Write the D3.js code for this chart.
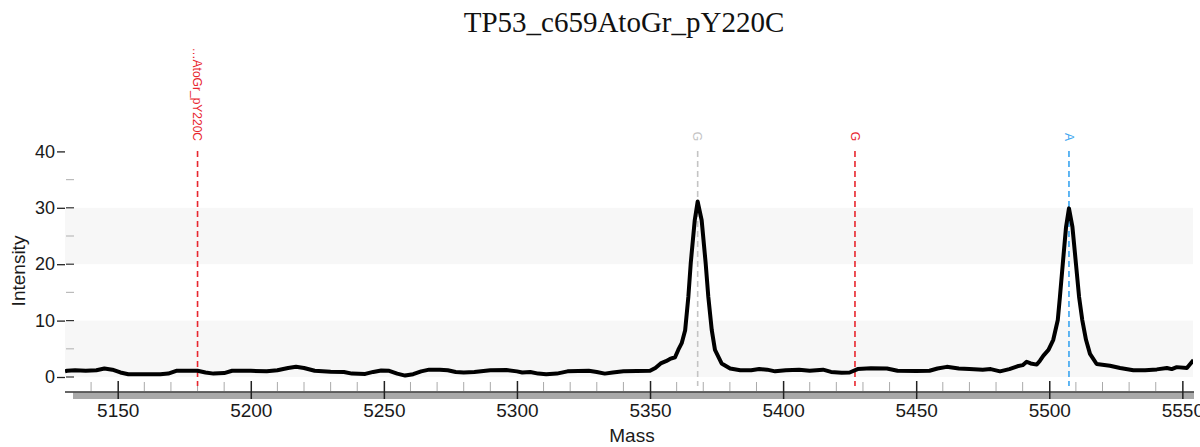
<!DOCTYPE html>
<html><head><meta charset="utf-8">
<script src="https://cdn.jsdelivr.net/npm/d3@7/dist/d3.min.js"></script>
<style>html,body{margin:0;padding:0;background:#fff;}svg{display:block;}</style>
</head><body>
<script>
const title = "TP53_c659AtoGr_pY220C";
const xTicks = [5150, 5200, 5250, 5300, 5350, 5400, 5450, 5500, 5550];
const yTicks = [0, 10, 20, 30, 40];
const markerMass = [5180, 5367.9, 5427, 5507.4];
const markerLabel = ["…AtoGr_pY220C", "G", "G", "A"];
const markerColor = ["#e8262e", "#c4c4c4", "#e8262e", "#3aa5f0"];
const mass = [5130.2,5131,5134,5138,5142,5145,5148,5151,5154,5160,5166,5169,5172,5176,5180,5183,5186,5190,5193,5200,5206,5210,5214,5217,5220,5224,5230,5235,5238,5243,5246,5249,5252,5255,5258,5261,5264,5267,5271,5274,5277,5280,5284,5290,5296,5300,5302,5305,5308,5311,5315,5319,5323,5327,5330,5333,5336,5340,5345,5350,5352,5354,5356,5357.5,5359.4,5360.6,5361.9,5363.2,5364.4,5365.3,5366.8,5367.9,5369.4,5370.9,5371.9,5373.2,5374.4,5376.9,5380.1,5383.9,5388,5391,5394,5397,5401,5406,5410,5415,5418,5422,5425,5428,5433,5439,5443,5450,5455,5458,5461.5,5466,5470,5475,5478,5481.5,5485,5488,5490,5491.5,5493,5495.3,5496.5,5497.8,5499.7,5501.5,5503.2,5504,5505.1,5506.3,5507.4,5508.7,5510,5511.2,5512.4,5513.8,5515.3,5517.8,5522.8,5526.6,5531.6,5536,5540.4,5544.2,5546,5547.9,5551.7,5554.2];
const intensity = [1.0,1.1,1.2,1.1,1.2,1.5,1.3,0.8,0.5,0.5,0.5,0.6,1.1,1.1,1.1,0.8,0.6,0.7,1.1,1.1,1.0,1.2,1.6,1.8,1.6,1.1,0.95,0.9,0.6,0.55,0.9,1.15,1.1,0.6,0.25,0.5,1.0,1.3,1.3,1.2,0.9,0.8,0.9,1.2,1.25,1.0,0.8,0.9,0.6,0.5,0.6,1.0,1.05,1.1,0.9,0.6,0.8,1.0,1.05,1.1,1.6,2.4,2.8,3.2,3.5,4.8,6.0,8.3,14.2,20.2,27.8,31.1,27.8,20.2,14.2,8.3,4.8,2.4,1.5,1.2,1.2,1.4,1.3,1.0,1.2,1.3,1.1,1.3,0.9,0.75,0.8,1.4,1.55,1.5,1.1,1.05,1.1,1.5,1.8,1.5,1.4,1.3,1.4,1.0,1.4,1.9,2.1,2.7,2.4,2.2,2.9,3.8,4.8,6.6,10.1,14.2,20.2,26.6,29.9,26.6,20.2,14.2,10.1,6.6,4.1,2.3,2.0,1.6,1.2,1.2,1.35,1.6,1.4,1.75,1.6,3.0];

const W = 1200, H = 447;
const L = 65, R = 1193;
const svg = d3.select("body").append("svg").attr("width", W).attr("height", H);
const x = d3.scaleLinear().domain([5130.2, 5554.0]).range([L, R]);
const y = d3.scaleLinear().domain([0, 40]).range([377, 151.4]);
const sans = "'Liberation Sans', Arial, sans-serif";

// bands
[[0,10],[20,30]].forEach(b => {
  svg.append("rect").attr("x", L).attr("width", R - L)
    .attr("y", y(b[1])).attr("height", y(b[0]) - y(b[1])).attr("fill", "#f7f7f7");
});

// title
svg.append("text").attr("x", 624).attr("y", 32).attr("text-anchor", "middle")
  .attr("font-family", "'Liberation Serif', 'Times New Roman', serif").attr("font-size", 29)
  .attr("fill", "#111").text(title);

// y axis ticks
const yMinor = d3.range(0, 40, 5);
svg.append("g").selectAll("line").data(yMinor).join("line")
  .attr("x1", 66).attr("x2", 74).attr("y1", d => y(d)).attr("y2", d => y(d))
  .attr("stroke", d => d % 10 === 0 ? "#333" : "#bbb").attr("stroke-width", 1.2);
const yAxis = d3.axisLeft(y).tickValues(yTicks).tickSize(8).tickPadding(2);
const gy = svg.append("g").attr("transform", `translate(${L},0)`).call(yAxis);
gy.select(".domain").remove();
gy.selectAll(".tick line").attr("stroke", "#222").attr("stroke-width", 1.3);
gy.selectAll(".tick text").attr("font-family", sans).attr("font-size", 18).attr("fill", "#1a1a1a");

svg.append("text").attr("transform", "translate(25,271) rotate(-90)").attr("text-anchor", "middle")
  .attr("font-family", sans).attr("font-size", 19).attr("fill", "#1a1a1a").text("Intensity");

// x axis
svg.append("rect").attr("x", 73).attr("y", 392.5).attr("width", R + 1 - 73).attr("height", 6.5).attr("fill", "#a9a9a9");
svg.append("line").attr("x1", L).attr("x2", R + 1).attr("y1", 392).attr("y2", 392).attr("stroke", "#333").attr("stroke-width", 1.5);
const xMinor = d3.range(5140, 5560, 10).filter(d => d % 50 !== 0);
svg.append("g").selectAll("line").data(xMinor).join("line")
  .attr("x1", d => x(d)).attr("x2", d => x(d)).attr("y1", 382).attr("y2", 391)
  .attr("stroke", "#aaa").attr("stroke-width", 1);
const xAxis = d3.axisBottom(x).tickValues(xTicks).tickSize(18).tickPadding(5).tickFormat(d3.format("d"));
const gx = svg.append("g").attr("transform", "translate(0,381)").call(xAxis);
gx.select(".domain").remove();
gx.selectAll(".tick line").attr("stroke", "#222").attr("stroke-width", 1.5);
gx.selectAll(".tick text").attr("font-family", sans).attr("font-size", 19).attr("fill", "#1a1a1a");
svg.append("text").attr("x", 632).attr("y", 442).attr("text-anchor", "middle")
  .attr("font-family", sans).attr("font-size", 19).attr("fill", "#1a1a1a").text("Mass");

// markers
const mk = svg.append("g");
markerMass.forEach((m, i) => {
  mk.append("line").attr("x1", x(m)).attr("x2", x(m)).attr("y1", 151).attr("y2", 386)
    .attr("stroke", markerColor[i]).attr("stroke-width", 1.6).attr("stroke-dasharray", "6,4");
  mk.append("text").attr("transform", `translate(${x(m)},141) rotate(90)`)
    .attr("text-anchor", "end").attr("dy", "0.35em")
    .attr("font-family", sans).attr("font-size", 12).attr("fill", markerColor[i]).text(markerLabel[i]);
});

// trace
svg.append("clipPath").attr("id", "clip").append("rect").attr("x", L).attr("y", 0).attr("width", R - L).attr("height", H);
const pts = mass.map((m, i) => [m, intensity[i]]);
svg.append("path").datum(pts).attr("clip-path", "url(#clip)")
  .attr("d", d3.line().x(d => x(d[0])).y(d => y(d[1])))
  .attr("fill", "none").attr("stroke", "#000").attr("stroke-width", 4).attr("stroke-linejoin", "round");
</script>
</body></html>
